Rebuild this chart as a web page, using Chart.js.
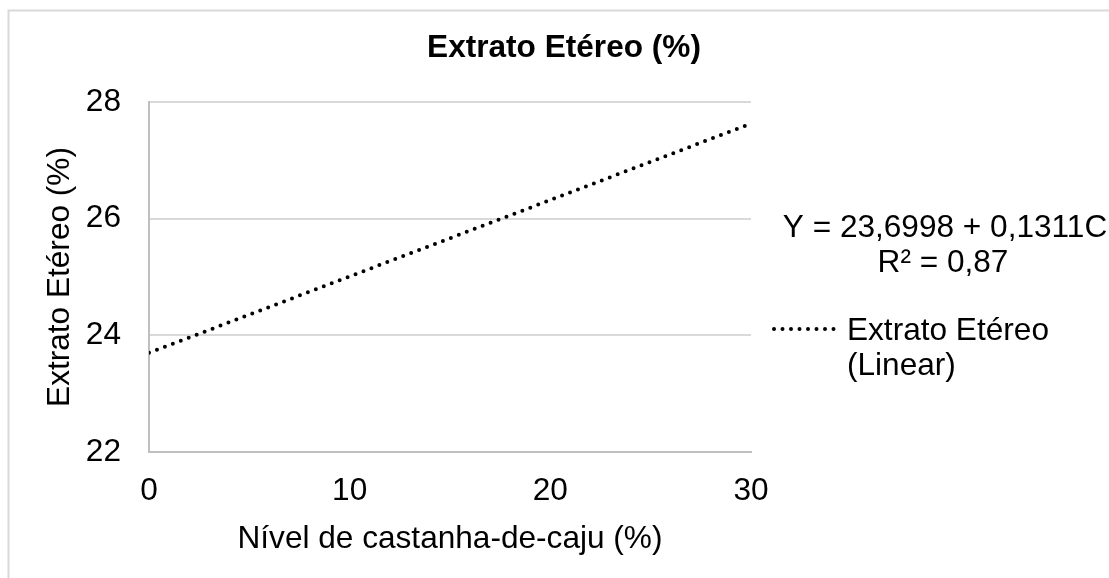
<!DOCTYPE html>
<html lang="pt">

<head>
  <meta charset="UTF-8">
  <title>Extrato Etéreo (%)</title>
  <script src="https://cdn.jsdelivr.net/npm/chart.js"></script>
  <style>
    body { margin: 0; background: #fff; }
    .grafico { width: 1109px; height: 578px; }
  </style>
</head>

<body>
  <div class="grafico">
    <canvas id="myChart" width="1109" height="578"></canvas>
  </div>
</body>

</html>
<script>
  // dados
  let niveis = [0, 30];
  let extratoEtereo = [23.70, 27.63];
  let ticksY = [22, 24, 26, 28];
  let ticksX = [0, 10, 20, 30];

  let titulo = 'Extrato Etéreo (%)';
  let tituloX = 'Nível de castanha-de-caju (%)';
  let tituloY = 'Extrato Etéreo (%)';
  let equacao = ['Y = 23,6998 + 0,1311C', 'R² = 0,87'];
  let legenda = ['Extrato Etéreo', '(Linear)'];

  const fonte = '"Liberation Sans", Arial, sans-serif';
  const tam = 31.6;

  let pontos = [];
  for (let i = 0; i < niveis.length; i++) {
    pontos.push({ x: niveis[i], y: extratoEtereo[i] });
  }

  // borda externa, título, equação e legenda
  const textos = {
    id: 'textos',
    beforeDraw(chart) {
      const ctx = chart.ctx;
      ctx.save();
      ctx.strokeStyle = '#d9d9d9';
      ctx.lineWidth = 2;
      ctx.strokeRect(8.5, 10.5, 1200, 1200);
      ctx.restore();
    },
    afterDraw(chart) {
      const ctx = chart.ctx;
      ctx.save();
      ctx.fillStyle = '#000';
      ctx.textBaseline = 'middle';

      ctx.font = 'bold ' + tam + 'px ' + fonte;
      ctx.textAlign = 'center';
      ctx.fillText(titulo, 564, 48);

      ctx.font = tam + 'px ' + fonte;
      ctx.fillText(equacao[0], 945, 228);
      ctx.fillText(equacao[1], 943, 263);

      // amostra da linha pontilhada
      ctx.strokeStyle = '#000';
      ctx.lineWidth = 4;
      ctx.lineCap = 'round';
      ctx.setLineDash([0, 8.5]);
      ctx.beginPath();
      ctx.moveTo(774, 329);
      ctx.lineTo(835, 329);
      ctx.stroke();

      ctx.textAlign = 'left';
      ctx.fillText(legenda[0], 847, 331);
      ctx.fillText(legenda[1], 847, 366);
      ctx.restore();
    }
  };

  const config = {
    type: 'scatter',
    data: {
      datasets: [{
        label: 'Extrato Etéreo (Linear)',
        data: pontos,
        showLine: true,
        borderColor: '#000',
        borderWidth: 4,
        borderDash: [0, 8.5],
        borderCapStyle: 'round',
        pointRadius: 0,
        fill: false
      }]
    },
    options: {
      responsive: false,
      animation: false,
      layout: { padding: { top: 102, right: 358, bottom: 0, left: 0 } },
      plugins: {
        legend: { display: false },
        title: { display: false },
        tooltip: { enabled: false }
      },
      scales: {
        x: {
          type: 'linear',
          min: 0,
          max: 30,
          afterBuildTicks(scale) { scale.ticks = ticksX.map(v => ({ value: v })); },
          afterFit(scale) { scale.height = 126; },
          grid: { display: false, drawTicks: false },
          border: { display: true, color: '#bfbfbf', width: 2 },
          ticks: { color: '#000', padding: 20, font: { family: fonte, size: tam } },
          title: {
            display: true,
            text: tituloX,
            color: '#000',
            padding: { top: 0, bottom: 20 },
            font: { family: fonte, size: tam }
          }
        },
        y: {
          min: 22,
          max: 28,
          afterBuildTicks(scale) { scale.ticks = ticksY.map(v => ({ value: v })); },
          afterFit(scale) { scale.width = 149; },
          grid: {
            drawTicks: false,
            lineWidth: 2,
            color: (c) => c.tick && c.tick.value === 22 ? 'rgba(0,0,0,0)' : '#d9d9d9'
          },
          border: { display: true, color: '#bfbfbf', width: 2 },
          ticks: { color: '#000', padding: 28, font: { family: fonte, size: tam } },
          title: {
            display: true,
            text: tituloY,
            color: '#000',
            padding: { top: 41, bottom: 0 },
            font: { family: fonte, size: tam }
          }
        }
      }
    },
    plugins: [textos]
  };

  let myChart = new Chart(document.getElementById('myChart'), config);
</script>
